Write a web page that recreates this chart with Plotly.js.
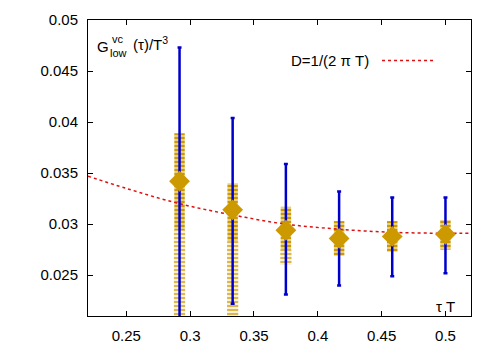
<!DOCTYPE html>
<html>
<head>
<meta charset="utf-8">
<script src="https://cdn.plot.ly/plotly-3.0.1.min.js"></script>
<style>
  html, body { margin: 0; padding: 0; background: #fff; }
  #chart { width: 500px; height: 350px; }
</style>
</head>
<body>
<div id="chart"></div>
<script>
// tau*T points
const tauT = [0.2917, 0.3333, 0.375, 0.4167, 0.4583, 0.5];
// central values (gold diamonds)
const gCentral = [0.0342, 0.0314, 0.0294, 0.0286, 0.0288, 0.0290];
// blue error bar ends
const blueHi = [0.0473, 0.0404, 0.0359, 0.0332, 0.0326, 0.0326];
const blueLo = [0.0195, 0.0222, 0.0231, 0.0240, 0.0249, 0.0252];
// gold striped bands: dense part and pale lower tail
const goldHi = [0.0389, 0.0340, 0.0317, 0.0303, 0.0303, 0.0304];
const goldMid = [0.0294, 0.0283, 0.0275, 0.0269, 0.0273, 0.0275];
const goldLo = [0.0195, 0.0205, 0.0260, 0.0269, 0.0273, 0.0275];
// D = 1/(2 pi T) curve
const dX = [0.22, 0.25, 0.2917, 0.3333, 0.375, 0.4167, 0.4583, 0.5, 0.52];
const dY = [0.0347, 0.0335, 0.0320, 0.0309, 0.0300, 0.0295, 0.0292, 0.0291, 0.0291];

const GOLD = "#cc9900";
const FONT = "Liberation Sans, Arial, sans-serif";

// pixel helpers for plot-area text (plot area 88..471 x 20..316)
const px = x => (x - 88) / 383;
const py = y => (316 - y) / 296;

const traces = [
  {
    type: "scatter",
    x: dX,
    y: dY,
    mode: "lines",
    line: { color: "#dd1111", width: 1.5, dash: "dot", shape: "spline" },
    hoverinfo: "skip",
  },
  {
    type: "scatter",
    x: tauT,
    y: gCentral,
    mode: "markers",
    marker: { size: 1, color: "rgba(0,0,0,0)" },
    error_y: {
      type: "data",
      symmetric: false,
      array: blueHi.map((v, i) => v - gCentral[i]),
      arrayminus: gCentral.map((v, i) => v - blueLo[i]),
      color: "#0000cc",
      thickness: 2.5,
      width: 2,
    },
  },
  {
    type: "bar",
    x: tauT,
    base: goldLo,
    y: goldMid.map((v, i) => v - goldLo[i]),
    width: 0.0088,
    marker: {
      color: "rgba(204,153,0,0.15)",
      line: { width: 0 },
      pattern: { shape: "-", fgcolor: "rgba(204,153,0,0.65)", bgcolor: "rgba(204,153,0,0.15)", size: 4, solidity: 0.5 },
    },
  },
  {
    type: "bar",
    x: tauT,
    base: goldMid,
    y: goldHi.map((v, i) => v - goldMid[i]),
    width: 0.0082,
    marker: {
      color: "rgba(204,153,0,0.35)",
      line: { width: 0 },
      pattern: { shape: "-", fgcolor: GOLD, bgcolor: "rgba(204,153,0,0.35)", size: 4, solidity: 0.6 },
    },
  },
  {
    type: "scatter",
    x: tauT,
    y: gCentral,
    mode: "markers",
    marker: { symbol: "diamond", size: 16, color: GOLD, line: { width: 0 } },
  },
];

const layout = {
  width: 500,
  height: 350,
  margin: { l: 88, r: 29, t: 20, b: 34 },
  paper_bgcolor: "#fff",
  plot_bgcolor: "#fff",
  showlegend: false,
  barmode: "overlay",
  font: { family: FONT, size: 15, color: "#000" },
  xaxis: {
    range: [0.22, 0.52],
    tick0: 0.25,
    dtick: 0.05,
    ticks: "inside",
    ticklen: 5,
    tickcolor: "#000",
    showline: true,
    linecolor: "#000",
    linewidth: 1,
    mirror: "ticks",
    showgrid: false,
    zeroline: false,
    ticklabelstandoff: 6,
  },
  yaxis: {
    range: [0.021, 0.05],
    tick0: 0.025,
    dtick: 0.005,
    ticks: "inside",
    ticklen: 5,
    tickcolor: "#000",
    showline: true,
    linecolor: "#000",
    linewidth: 1,
    mirror: "ticks",
    showgrid: false,
    zeroline: false,
    ticklabelstandoff: 6,
  },
  annotations: [
    { text: "G", x: px(95), y: py(46.5), xref: "paper", yref: "paper", xanchor: "left", yanchor: "middle", showarrow: false },
    { text: "vc", x: px(109.5), y: py(39), xref: "paper", yref: "paper", xanchor: "left", yanchor: "middle", showarrow: false, font: { size: 11 } },
    { text: "low", x: px(107.5), y: py(53), xref: "paper", yref: "paper", xanchor: "left", yanchor: "middle", showarrow: false, font: { size: 11 } },
    { text: "(τ)/T<sup>3</sup>", x: px(131), y: py(44), xref: "paper", yref: "paper", xanchor: "left", yanchor: "middle", showarrow: false },
    { text: "D=1/(2 π T)", x: px(371), y: py(61), xref: "paper", yref: "paper", xanchor: "right", yanchor: "middle", showarrow: false },
    { text: "τ T", x: px(457), y: py(306), xref: "paper", yref: "paper", xanchor: "right", yanchor: "middle", showarrow: false },
  ],
  shapes: [
    { type: "line", xref: "paper", yref: "paper", x0: px(382), x1: px(433), y0: py(60.5), y1: py(60.5), line: { color: "#dd1111", width: 1.5, dash: "dot" } },
  ],
};

Plotly.newPlot("chart", traces, layout, { displayModeBar: false, staticPlot: true });
</script>
</body>
</html>
